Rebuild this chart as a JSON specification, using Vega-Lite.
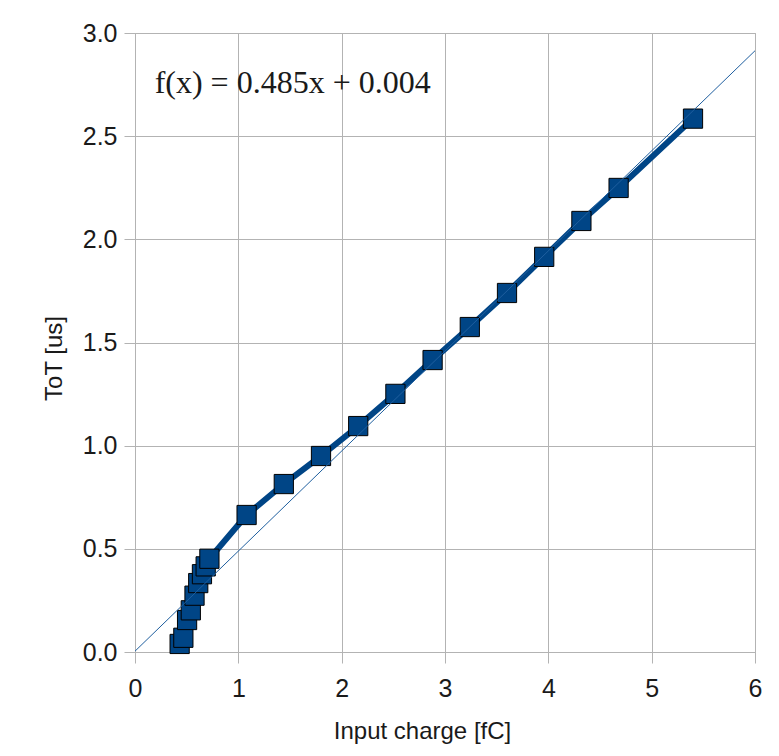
{
  "$schema": "https://vega.github.io/schema/vega-lite/v6.json",
  "width": 620,
  "height": 619,
  "autosize": {"type": "none"},
  "padding": {"left": 135, "top": 33, "right": 24, "bottom": 104},
  "background": "#ffffff",
  "config": {
    "view": {"stroke": "#b3b3b3", "strokeWidth": 1},
    "axis": {
      "gridColor": "#b3b3b3",
      "gridWidth": 1,
      "domainColor": "#b3b3b3",
      "tickColor": "#b3b3b3",
      "tickSize": 11,
      "labelFlush": false,
      "labelFont": "Liberation Sans",
      "labelFontSize": 25,
      "labelColor": "#1a1a1a",
      "titleFont": "Liberation Sans",
      "titleFontSize": 24,
      "titleFontWeight": "normal",
      "titleColor": "#1a1a1a"
    }
  },
  "datasets": {
    "tot": [
      {"charge": 0.432, "tot": 0.039},
      {"charge": 0.468, "tot": 0.069},
      {"charge": 0.504, "tot": 0.155},
      {"charge": 0.540, "tot": 0.202},
      {"charge": 0.576, "tot": 0.273},
      {"charge": 0.612, "tot": 0.334},
      {"charge": 0.648, "tot": 0.377},
      {"charge": 0.684, "tot": 0.415},
      {"charge": 0.720, "tot": 0.452},
      {"charge": 1.08, "tot": 0.664},
      {"charge": 1.44, "tot": 0.814},
      {"charge": 1.80, "tot": 0.950},
      {"charge": 2.16, "tot": 1.095},
      {"charge": 2.52, "tot": 1.251},
      {"charge": 2.88, "tot": 1.415},
      {"charge": 3.24, "tot": 1.575},
      {"charge": 3.60, "tot": 1.740},
      {"charge": 3.96, "tot": 1.915},
      {"charge": 4.32, "tot": 2.089},
      {"charge": 4.68, "tot": 2.249},
      {"charge": 5.40, "tot": 2.585}
    ],
    "fit": [
      {"charge": 0, "tot": 0.004},
      {"charge": 6, "tot": 2.914}
    ],
    "formula": [
      {"label": "f(x) = 0.485x + 0.004"}
    ]
  },
  "layer": [
    {
      "data": {"name": "tot"},
      "mark": {"type": "line", "color": "#004586", "strokeWidth": 6, "strokeJoin": "round"},
      "encoding": {
        "x": {
          "field": "charge",
          "type": "quantitative",
          "scale": {"domain": [0, 6], "nice": false, "zero": false},
          "axis": {
            "title": "Input charge [fC]",
            "values": [0, 1, 2, 3, 4, 5, 6],
            "format": "d",
            "labelPadding": 13,
            "titleX": 287,
            "titleY": 86,
            "titleAnchor": null,
            "titleAlign": "center",
            "titleBaseline": "alphabetic"
          }
        },
        "y": {
          "field": "tot",
          "type": "quantitative",
          "scale": {"domain": [0, 3], "nice": false, "zero": false},
          "axis": {
            "title": "ToT [us]",
            "values": [0, 0.5, 1, 1.5, 2, 2.5, 3],
            "format": ".1f",
            "labelPadding": 7,
            "titleAngle": -90,
            "titleX": -74,
            "titleY": 325,
            "titleAnchor": null,
            "titleAlign": "center",
            "titleBaseline": "alphabetic"
          }
        }
      }
    },
    {
      "data": {"name": "tot"},
      "mark": {"type": "point", "shape": "square", "filled": true, "size": 370, "fill": "#004586", "stroke": "#000000", "strokeWidth": 1, "opacity": 1},
      "encoding": {
        "x": {"field": "charge", "type": "quantitative"},
        "y": {"field": "tot", "type": "quantitative"}
      }
    },
    {
      "data": {"name": "fit"},
      "mark": {"type": "line", "color": "#1f5f9f", "strokeWidth": 1},
      "encoding": {
        "x": {"field": "charge", "type": "quantitative"},
        "y": {"field": "tot", "type": "quantitative"}
      }
    },
    {
      "data": {"name": "formula"},
      "mark": {"type": "text", "font": "Liberation Serif", "fontSize": 32, "color": "#1a1a1a", "align": "left", "baseline": "alphabetic"},
      "encoding": {
        "x": {"datum": 0.19},
        "y": {"datum": 2.71},
        "text": {"field": "label", "type": "nominal"}
      }
    }
  ]
}
